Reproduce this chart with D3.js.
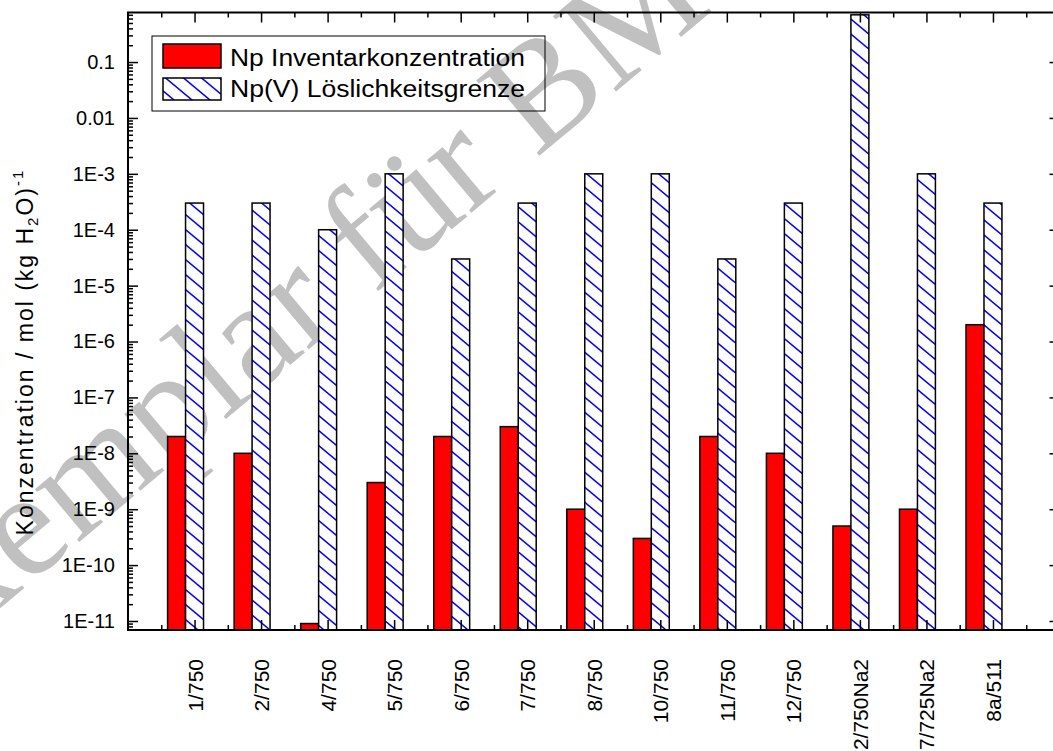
<!DOCTYPE html>
<html>
<head>
<meta charset="utf-8">
<script src="https://cdn.jsdelivr.net/npm/d3@7"></script>
<style>
    body { margin: 0; background: #fff; }
    text { font-family: Arial, "Liberation Sans", sans-serif; fill: #000; }
    .tick line { stroke: #000; stroke-width: 1.5; }
</style>
</head>
<body>
<div id="chart"></div>
<script>
// Samples along the x axis
var samples = ["1/750", "2/750", "4/750", "5/750", "6/750", "7/750", "8/750",
    "10/750", "11/750", "12/750", "2/750Na2", "7/725Na2", "8a/511"];

// Np Inventarkonzentration, mol (kg H2O)^-1
var inventory = [2e-8, 1e-8, 9e-12, 3e-9, 2e-8, 3e-8, 1e-9, 3e-10, 2e-8, 1e-8, 5e-10, 1e-9, 2e-6];

// Np(V) Löslichkeitsgrenze, mol (kg H2O)^-1
var solubility = [3e-4, 3e-4, 1e-4, 1e-3, 3e-5, 3e-4, 1e-3, 1e-3, 3e-5, 3e-4, 0.7, 1e-3, 3e-4];

var yTickValues = [0.1, 0.01, 1e-3, 1e-4, 1e-5, 1e-6, 1e-7, 1e-8, 1e-9, 1e-10, 1e-11];
var yTickLabels = ["0.1", "0.01", "1E-3", "1E-4", "1E-5", "1E-6", "1E-7", "1E-8", "1E-9", "1E-10", "1E-11"];

var seriesNames = ["Np Inventarkonzentration", "Np(V) Löslichkeitsgrenze"];

var width = 1053,
    height = 751,
    plotLeft = 128,
    plotRight = 1059.5,
    plotTop = 12.5,
    plotBottom = 630,
    barW = 0.27;

var x = d3.scaleLinear()
    .domain([0.5, 14.5])
    .range([plotLeft, plotRight]);

var y = d3.scaleLog()
    .domain([6.9e-12, 0.77])
    .range([plotBottom, plotTop]);

// category centres sit on the major ticks
var centers = samples.map((d, i) => i + 1.5);
var bounds = d3.range(1, 15);

// log minor ticks 2..9 in each decade
var minorY = [];
for (let e = -12; e <= 0; e++) {
    for (let k = 2; k <= 9; k++) {
        var v = k * Math.pow(10, e);
        if (v > y.domain()[0] && v < y.domain()[1]) minorY.push(v);
    }
}

var svg = d3.select("#chart").append("svg")
    .attr("width", width)
    .attr("height", height);

var defs = svg.append("defs");
var hatch = defs.append("pattern")
    .attr("id", "hatch")
    .attr("patternUnits", "userSpaceOnUse")
    .attr("width", 18)
    .attr("height", 15);
hatch.append("rect")
    .attr("width", 18)
    .attr("height", 15)
    .attr("fill", "#fff");
hatch.append("path")
    .attr("d", "M0,0L18,15M14,-3.33L22,3.33M-4,11.67L4,18.33")
    .attr("stroke", "#0000ff")
    .attr("stroke-width", 1.5)
    .attr("fill", "none");

// Watermark behind everything
svg.append("text")
    .attr("transform", "translate(-102,694) rotate(-40)")
    .style("font-family", "'Liberation Serif', 'Times New Roman', serif")
    .style("font-size", "150px")
    .style("fill", "#c0c0c0")
    .text("Exemplar für BMU");

// Bars
var g = svg.append("g");

g.selectAll(".inv")
    .data(inventory)
    .enter().append("rect")
    .attr("class", "inv")
    .attr("x", (d, i) => x(centers[i] - 1.5 * barW))
    .attr("width", x(barW) - x(0))
    .attr("y", d => y(d))
    .attr("height", d => plotBottom - y(d))
    .attr("fill", "#ff0000")
    .attr("stroke", "#000")
    .attr("stroke-width", 1.5);

g.selectAll(".sol")
    .data(solubility)
    .enter().append("rect")
    .attr("class", "sol")
    .attr("x", (d, i) => x(centers[i] - 0.5 * barW))
    .attr("width", x(barW) - x(0))
    .attr("y", d => y(d))
    .attr("height", d => plotBottom - y(d))
    .attr("fill", "url(#hatch)")
    .attr("stroke", "#000")
    .attr("stroke-width", 1.5);

// Axes, ticks pointing inwards
svg.append("g")
    .attr("transform", "translate(" + plotLeft + ",0)")
    .call(d3.axisLeft(y).tickValues(yTickValues).tickSize(-10).tickPadding(13)
        .tickFormat((d, i) => yTickLabels[i]))
    .call(a => a.select(".domain").remove())
    .selectAll("text").style("font-size", "20px");

svg.append("g")
    .attr("transform", "translate(" + plotLeft + ",0)")
    .call(d3.axisLeft(y).tickValues(minorY).tickSize(-5).tickFormat(""))
    .call(a => a.select(".domain").remove());

svg.append("g")
    .attr("transform", "translate(" + plotRight + ",0)")
    .call(d3.axisRight(y).tickValues(yTickValues).tickSize(-10).tickFormat(""))
    .call(a => a.select(".domain").remove());

svg.append("g")
    .attr("transform", "translate(" + plotRight + ",0)")
    .call(d3.axisRight(y).tickValues(minorY).tickSize(-5).tickFormat(""))
    .call(a => a.select(".domain").remove());

var xAxis = svg.append("g")
    .attr("transform", "translate(0," + plotBottom + ")")
    .call(d3.axisBottom(x).tickValues(centers).tickSize(-10).tickFormat((d, i) => samples[i]))
    .call(a => a.select(".domain").remove());

xAxis.selectAll("text")
    .attr("x", 0)
    .attr("y", 0)
    .attr("dy", null)
    .attr("text-anchor", "end")
    .attr("transform", "translate(7.5,29) rotate(-90)")
    .style("font-size", "21px");

svg.append("g")
    .attr("transform", "translate(0," + plotBottom + ")")
    .call(d3.axisBottom(x).tickValues(bounds).tickSize(-5).tickFormat(""))
    .call(a => a.select(".domain").remove());

svg.append("g")
    .attr("transform", "translate(0," + plotTop + ")")
    .call(d3.axisTop(x).tickValues(centers).tickSize(-10).tickFormat(""))
    .call(a => a.select(".domain").remove());

svg.append("g")
    .attr("transform", "translate(0," + plotTop + ")")
    .call(d3.axisTop(x).tickValues(bounds).tickSize(-5).tickFormat(""))
    .call(a => a.select(".domain").remove());

// Frame
svg.append("rect")
    .attr("x", plotLeft)
    .attr("y", plotTop)
    .attr("width", plotRight - plotLeft)
    .attr("height", plotBottom - plotTop)
    .attr("fill", "none")
    .attr("stroke", "#000")
    .attr("stroke-width", 2);

// Y title
var title = svg.append("text")
    .attr("transform", "translate(33,352) rotate(-90)")
    .attr("text-anchor", "middle")
    .style("font-size", "23px")
    .style("letter-spacing", "2px");
title.append("tspan").text("Konzentration / mol (kg H");
title.append("tspan").attr("dy", 5).style("font-size", "15px").text("2");
title.append("tspan").attr("dy", -5).text("O)");
title.append("tspan").attr("dy", -10).style("font-size", "15px").text("-1");

// Legend
var legend = svg.append("g").attr("class", "legend");

legend.append("rect")
    .attr("x", 152)
    .attr("y", 36)
    .attr("width", 393)
    .attr("height", 75)
    .attr("fill", "none")
    .attr("stroke", "#000")
    .attr("stroke-width", 1);

legend.selectAll(".item")
    .data(seriesNames)
    .enter().append("g")
    .attr("class", "item")
    .each(function (d, i) {
        var item = d3.select(this);
        item.append("rect")
            .attr("x", 163)
            .attr("y", i === 0 ? 44 : 78)
            .attr("width", 58)
            .attr("height", i === 0 ? 24 : 22)
            .attr("fill", i === 0 ? "#ff0000" : "url(#hatch)")
            .attr("stroke", "#000")
            .attr("stroke-width", 1.5);
        item.append("text")
            .attr("x", 230)
            .attr("y", i === 0 ? 65.5 : 96.5)
            .attr("textLength", 295)
            .attr("lengthAdjust", "spacingAndGlyphs")
            .style("font-size", "23px")
            .text(d);
    });
</script>
</body>
</html>
